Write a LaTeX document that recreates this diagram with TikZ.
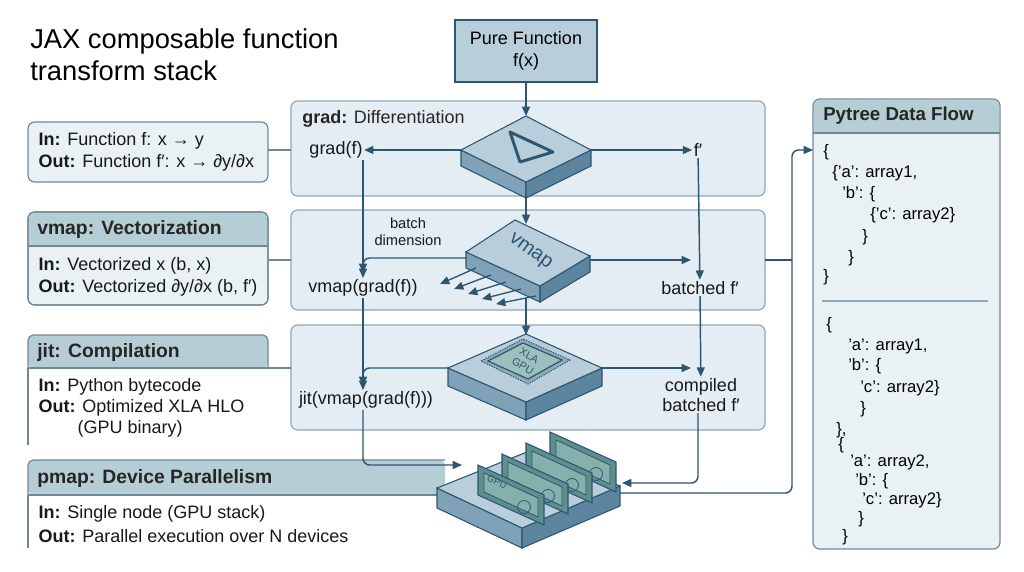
\documentclass[tikz,border=0pt]{standalone}
\usepackage{fontspec}
\setmainfont{Liberation Sans}
\usetikzlibrary{arrows.meta}
\definecolor{band}{HTML}{E4EDF3}
\definecolor{bandline}{HTML}{8FA9BB}
\definecolor{dk}{HTML}{2E5671}
\definecolor{hdr}{HTML}{B5CDD4}
\definecolor{top}{HTML}{B9CEDB}
\definecolor{sideL}{HTML}{7FA2B8}
\definecolor{sideR}{HTML}{5D85A0}
\definecolor{card}{HTML}{5E8F8E}
\definecolor{cardin}{HTML}{86B0AC}
\definecolor{pan}{HTML}{EAF1F5}
\begin{document}
\begin{tikzpicture}[x=0.75pt,y=-0.75pt,
  arr/.style={-{Triangle[length=7pt,width=6pt]},dk,line width=1.1pt},
  ln/.style={dk,line width=1.1pt},
  bandst/.style={draw=bandline,fill=band,rounded corners=5pt,line width=0.9pt},
  panel/.style={draw=bandline!80!black,fill=pan,rounded corners=5pt,line width=0.9pt},
  txt/.style={font=\fontsize{13.5pt}{16pt}\selectfont,text=black!90,inner sep=1pt},
  ctxt/.style={font=\fontsize{13.5pt}{15pt}\selectfont,text=black!90,inner sep=1pt,align=center},
  pt/.style={font=\fontsize{12.5pt}{14pt}\selectfont,anchor=west,inner sep=0pt},
  hd/.style={font=\bfseries\fontsize{14.5pt}{16pt}\selectfont,anchor=west,inner sep=0pt,text=black!85}]
\useasboundingbox (0,0) rectangle (1024,571);
\fill[white] (0,0) rectangle (1024,571);
% title
\node[anchor=west,font=\fontsize{20.5pt}{24pt}\selectfont,align=left,inner sep=0pt] (title) at (30,55) {JAX composable function\\transform stack};
% bands
\draw[bandst] (291,101) rectangle (765,196);
\draw[bandst] (291,210) rectangle (765,310);
\draw[bandst] (291,325) rectangle (765,430);
% pure function
\node[draw=dk,fill=top,line width=1pt,minimum width=142pt*0.75,minimum height=62pt*0.75,align=center,font=\fontsize{13.5pt}{16pt}\selectfont] (pure) at (526,51) {Pure Function\\f(x)};
\node[hd,font=\fontsize{13.5pt}{15pt}\selectfont] (gradt) at (302,119) {\textbf{grad:} \mdseries Differentiation};
% left panels
\draw[panel] (28,122) rectangle (268,182);
\node[txt,anchor=west] (gi1) at (37,141) {\textbf{In:} Function f: x → y};
\node[txt,anchor=west] (gi2) at (37,163) {\textbf{Out:} Function f′: x → ∂y/∂x};
\draw[panel] (28,212) rectangle (268,305);
\fill[hdr,rounded corners=4pt] (29,213) rectangle (267,246);
\fill[hdr] (29,230) rectangle (267,246);
\draw[bandline!80!black,line width=0.9pt] (28,246) -- (268,246);
\draw[bandline!80!black,line width=0.9pt,rounded corners=5pt] (28,305) -- (28,212) -- (268,212) -- (268,305) -- cycle;
\node[hd] (vh) at (37,229) {vmap: Vectorization};
\node[txt,anchor=west] (vi1) at (37,266) {\textbf{In:} Vectorized x (b, x)};
\node[txt,anchor=west] (vi2) at (37,288) {\textbf{Out:} Vectorized ∂y/∂x (b, f′)};
% jit panel
\fill[hdr,rounded corners=4pt] (28,335) rectangle (268,368);
\draw[bandline!80!black,line width=0.9pt,rounded corners=4pt] (28,368) -- (28,335) -- (268,335) -- (268,368);
\draw[bandline!80!black,line width=0.9pt] (28,368) -- (291,368);
\draw[bandline!80!black,line width=0.9pt] (28,368) -- (28,445);
\node[hd] (jh) at (37,352) {jit: Compilation};
\node[txt,anchor=west] (ji1) at (37,387) {\textbf{In:} Python bytecode};
\node[txt,anchor=west] (ji2) at (37,408) {\textbf{Out:} Optimized XLA HLO};
\node[txt,anchor=west] (ji3) at (76,429) {(GPU binary)};
% pmap panel
\fill[hdr,rounded corners=4pt] (28,460) rectangle (445,495);
\draw[bandline!80!black,line width=0.9pt,rounded corners=4pt] (28,495) -- (28,460) -- (445,460);
\draw[bandline!80!black,line width=0.9pt] (28,495) -- (445,495);
\draw[bandline!80!black,line width=0.9pt] (28,495) -- (28,548);
\node[hd] (ph) at (37,478) {pmap: Device Parallelism};
\node[txt,anchor=west] (pi1) at (37,514) {\textbf{In:} Single node (GPU stack)};
\node[txt,anchor=west] (pi2) at (37,536) {\textbf{Out:} Parallel execution over N devices};
% panel connectors
\draw[bandline!80!black,line width=0.9pt] (268,150) -- (291,150);
\draw[bandline!80!black,line width=0.9pt] (268,260) -- (291,260);
% ---- grad slab
\coordinate (gL) at (461,150); \coordinate (gR) at (591,150);
\fill[sideL,draw=dk,line width=0.8pt] (461,150)--(526,182)--(526,198)--(461,166)--cycle;
\fill[sideR,draw=dk,line width=0.8pt] (526,182)--(591,150)--(591,166)--(526,198)--cycle;
\fill[top,draw=dk,line width=0.8pt] (461,150)--(526,116)--(591,150)--(526,182)--cycle;
\draw[dk,line width=2.2pt,line join=round] (510,132)--(553,152)--(520,162)--cycle;
% ---- vmap slab
\fill[sideL,draw=dk,line width=0.8pt] (466,252)--(540,286)--(540,302)--(466,268)--cycle;
\fill[sideR,draw=dk,line width=0.8pt] (540,286)--(590,256)--(590,272)--(540,302)--cycle;
\fill[top,draw=dk,line width=0.8pt] (466,252)--(515,220)--(590,256)--(540,286)--cycle;
\node[rotate=-36,font=\fontsize{15pt}{15pt}\selectfont,text=dk,inner sep=0pt] (vm) at (530,252) {vmap};
\foreach \i in {0,1,2,3,4}{
  \draw[arr,line width=1pt] (476+\i*15,268+\i*7) -- (440+\i*14,284+\i*5);}
% ---- chip slab
\fill[sideL,draw=dk,line width=0.8pt] (448,368)--(526,402)--(526,420)--(448,386)--cycle;
\fill[sideR,draw=dk,line width=0.8pt] (526,402)--(602,368)--(602,386)--(526,420)--cycle;
\fill[top,draw=dk,line width=0.8pt] (448,368)--(526,334)--(602,368)--(526,402)--cycle;
\draw[dk,line width=0.8pt,fill=top!70!dk,dash pattern=on 1pt off 1pt] (481,361)--(523,339)--(570,360)--(528,384)--cycle;
\fill[cardin!80!white,draw=dk,line width=0.9pt] (488,361)--(523,343)--(562,360)--(528,379)--cycle;
\node[rotate=-30,font=\fontsize{8pt}{9.5pt}\selectfont,text=dk,align=center,inner sep=0pt] (xla) at (526,361) {XLA\\GPU};
% ---- pmap platform
\fill[sideL,draw=dk,line width=0.8pt] (437,488)--(522,528)--(522,548)--(437,508)--cycle;
\fill[sideR,draw=dk,line width=0.8pt] (522,528)--(620,486)--(620,506)--(522,548)--cycle;
\fill[top,draw=dk,line width=0.8pt] (437,488)--(532,450)--(620,486)--(522,528)--cycle;
\foreach \i in {3,2,1,0}{
  \pgfmathsetmacro\xo{478+\i*24} \pgfmathsetmacro\yo{465-\i*11}
  \fill[card,draw=dk,line width=0.8pt] (\xo,\yo)--(\xo+66,\yo+30)--(\xo+66,\yo+60)--(\xo,\yo+30)--cycle;
  \fill[cardin,draw=dk,line width=0.6pt] (\xo+6,\yo+8)--(\xo+60,\yo+33)--(\xo+60,\yo+52)--(\xo+6,\yo+27)--cycle;
  \draw[dk,line width=0.6pt] (\xo+46,\yo+42) circle (6.5);
}
\node[rotate=-24,font=\fontsize{7pt}{7pt}\selectfont,text=dk] (gpu) at (497,482) {GPU};
% ---- texts
\node[txt] (gf) at (336,150) {grad(f)};
\node[txt] (fp) at (698,150) {f′};
\node[ctxt,font=\fontsize{11pt}{12.5pt}\selectfont] (bd) at (408,232) {batch\\dimension};
\node[txt] (vg) at (363,288) {vmap(grad(f))};
\node[txt] (bf) at (700,288) {batched f′};
\node[txt] (jv) at (366,400) {jit(vmap(grad(f)))};
\node[ctxt] (cbf) at (701,395) {compiled\\batched f′};
% ---- arrows
\draw[arr] (pure) -- (526,116);
\draw[arr] (gL) -- (gf);
\draw[arr] (gR) -- (fp);
\draw[arr] (526,198) -- (526,224);
\draw[arr] (526,298) -- (526,335);
\draw[arr] (fp) -- (bf);
\draw[arr] (590,260) -- (691,260);
\draw[arr] (gf.south -| 363,0) -- (vg.north -| 363,0);
\draw[arr,rounded corners=5pt] (466,258) -- (363,258) -- (363,273);
\draw[arr] (bf) -- (cbf);
\draw[arr] (602,368) -- (691,368);
\draw[arr] (vg.south -| 363,0) -- (jv.north -| 363,0);
\draw[arr,rounded corners=5pt] (448,368) -- (363,368) -- (363,386);
\draw[arr,rounded corners=5pt] (jv.south -| 363,0) -- (363,465) -- (462,465);
\draw[arr,rounded corners=5pt] (cbf.south -| 698,0) -- (698,483) -- (622,483);
% ---- pytree
\draw[draw=bandline!80!black,fill=pan,rounded corners=5pt,line width=0.9pt] (813,99) rectangle (1000,549);
\fill[hdr,rounded corners=4pt] (814,100) rectangle (999,133);
\fill[hdr] (814,120) rectangle (999,133);
\draw[bandline!80!black,line width=0.9pt] (813,133) -- (1000,133);
\node[hd,font=\bfseries\fontsize{14pt}{15pt}\selectfont] (pyh) at (823,116) {Pytree Data Flow};
\coordinate (pyin) at (813,150);
\draw[arr,rounded corners=5pt] (620,493) -- (792,493) -- (792,150) -- (pyin);
\draw[ln,line width=1pt] (765,260) -- (792,260);
\node[pt] at (823,152) {\{};
\node[pt] at (832,173) {\{'a': array1,};
\node[pt] at (842,194) {'b': \{};
\node[pt] at (870,215) {\{'c': array2\}};
\node[pt] at (862,237) {\}};
\node[pt] at (848,258) {\}};
\node[pt] at (823,277) {\}};
\draw[bandline,line width=0.8pt] (822,301) -- (988,301);
\node[pt] at (826,325) {\{};
\node[pt] at (848,346) {'a': array1,};
\node[pt] at (848,366) {'b': \{};
\node[pt] at (860,388) {'c': array2\}};
\node[pt] at (860,409) {\}};
\node[pt] at (836,430) {\},};
\node[pt] at (838,445) {\{};
\node[pt] at (850,462) {'a': array2,};
\node[pt] at (855,481) {'b': \{};
\node[pt] at (862,500) {'c': array2\}};
\node[pt] at (858,519) {\}};
\node[pt] at (842,537) {\}};
\end{tikzpicture}
\end{document}
